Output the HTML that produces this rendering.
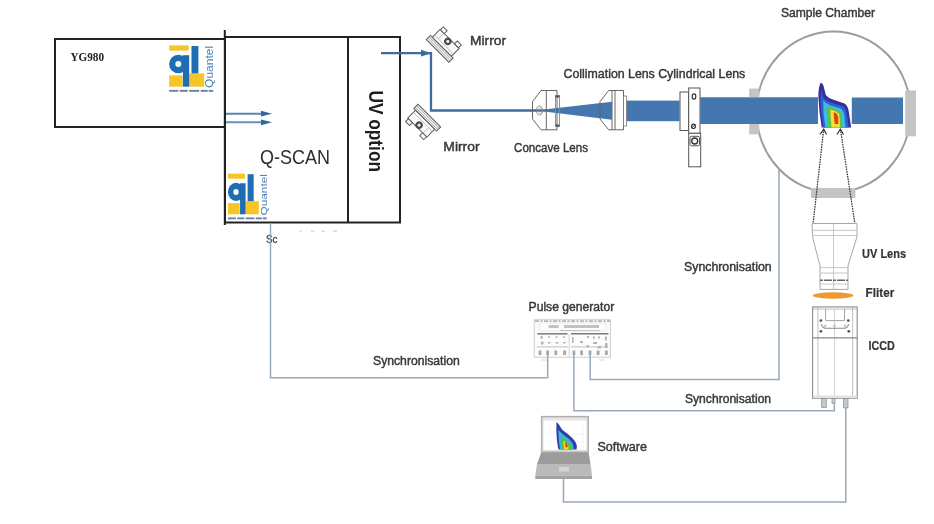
<!DOCTYPE html>
<html><head><meta charset="utf-8">
<style>
html,body{margin:0;padding:0;background:#fff;}
body{width:934px;height:524px;overflow:hidden;}
svg{display:block;filter:blur(0.5px);}
text{font-family:"Liberation Sans",sans-serif;}
</style></head>
<body>
<svg width="934" height="524" viewBox="0 0 934 524">
<defs>
  <g id="mirror">
    <rect x="-16" y="4.5" width="32" height="6" fill="#f4f4f4" stroke="#5a5a5a" stroke-width="1"/>
    <line x1="-16" y1="6.5" x2="16" y2="6.5" stroke="#777" stroke-width="0.6"/>
    <line x1="-16" y1="8.5" x2="16" y2="8.5" stroke="#777" stroke-width="0.6"/>
    <rect x="-13.5" y="-6.5" width="27" height="11" fill="#fafafa" stroke="#5a5a5a" stroke-width="1"/>
    <line x1="-13.5" y1="1.5" x2="13.5" y2="1.5" stroke="#999" stroke-width="0.6"/>
    <line x1="-8" y1="-6.5" x2="-8" y2="1.5" stroke="#999" stroke-width="0.6"/>
    <rect x="-13" y="-10.5" width="5.5" height="4" fill="#fff" stroke="#5a5a5a" stroke-width="1"/>
    <rect x="7" y="-10.5" width="5.5" height="4" fill="#fff" stroke="#5a5a5a" stroke-width="1"/>
    <circle cx="0.5" cy="-3.5" r="3.7" fill="#4a4a4a"/>
    <circle cx="0.5" cy="-3.5" r="1.6" fill="#eee"/>
  </g>
  <g id="logo">
    <rect x="0" y="0" width="19.4" height="5.2" fill="#f6c526"/>
    <rect x="0" y="30" width="13.3" height="11.3" fill="#f6c526"/>
    <rect x="20" y="28" width="15" height="13.3" fill="#f6c526"/>
    <circle cx="9.1" cy="18.6" r="9.2" fill="#1f6db3"/>
    <circle cx="9.1" cy="18.6" r="3" fill="#fff"/>
    <rect x="13.7" y="9.8" width="6.3" height="31.5" fill="#1f6db3"/>
    <rect x="22.3" y="0.6" width="6.9" height="27.4" fill="#1f6db3"/>
    <text x="0" y="0" transform="translate(44,42.5) rotate(-90)" font-family="Liberation Sans" font-size="10" fill="#4a80b8" textLength="42" lengthAdjust="spacingAndGlyphs">Quantel</text>
    <g fill="#2a4a8a" opacity="0.7"><rect x="0" y="44.5" width="9" height="1.9"/><rect x="10.5" y="44.5" width="8" height="1.9"/><rect x="20" y="44.5" width="10" height="1.9"/><rect x="31.5" y="44.5" width="7" height="1.9"/><rect x="39.5" y="44.5" width="4.5" height="1.9"/></g>
  </g>
  </g>
</defs>

<!-- YG980 box -->
<rect x="55" y="39" width="170" height="88" fill="none" stroke="#222" stroke-width="2"/>
<text x="70.5" y="60.8" font-family="Liberation Serif" font-weight="bold" font-size="12" fill="#222" textLength="33.5" lengthAdjust="spacingAndGlyphs" style="font-family:'Liberation Serif',serif">YG980</text>
<use href="#logo" transform="translate(169.2,45.4)"/>

<!-- Q-SCAN box -->
<rect x="225" y="37" width="175" height="185.5" fill="none" stroke="#222" stroke-width="2"/>
<line x1="224.8" y1="30" x2="224.8" y2="225" stroke="#222" stroke-width="2"/>
<line x1="348" y1="37" x2="348" y2="222.5" stroke="#222" stroke-width="2"/>
<text x="260.1" y="163.6" font-size="20.8" fill="#2e2e2e" textLength="69.9" lengthAdjust="spacingAndGlyphs">Q-SCAN</text>
<use href="#logo" transform="translate(228,173.6) scale(0.88,0.985)"/>
<text transform="translate(368.6,90.5) rotate(90)" x="0" y="0" font-size="19.5" font-weight="bold" fill="#1e1e1e" textLength="81.5" lengthAdjust="spacingAndGlyphs">UV option</text>

<!-- arrows -->
<line x1="226" y1="113.7" x2="262" y2="113.7" stroke="#5a86ae" stroke-width="2"/>
<line x1="226" y1="122.3" x2="262" y2="122.3" stroke="#6a90b0" stroke-width="2"/>
<path d="M261,110.8 L272,113.7 L261,116.6 Z" fill="#2f66a3"/>
<path d="M261,119.4 L272,122.3 L261,125.2 Z" fill="#2f66a3"/>

<!-- beam path -->
<polyline points="381,53.2 431,53.2 431,110.5 546,110.5" fill="none" stroke="#3d6ca0" stroke-width="2.3"/>
<path d="M421,49.8 L431.5,53.2 L421,56.6 Z" fill="#3d6ca0"/>
<use href="#mirror" transform="translate(445,43.5) rotate(45)"/>
<use href="#mirror" transform="translate(421.9,123) rotate(225)"/>

<!-- cone -->
<path d="M546,109.3 L612,101.8 L612,119.8 L546,111.7 Z" fill="#4476b0"/>
<rect x="626.5" y="100.6" width="53" height="20.6" fill="#4476b0"/>
<rect x="700.5" y="97.5" width="117.5" height="26.5" fill="#4476b0"/>
<rect x="851.8" y="97.5" width="51.2" height="26.5" fill="#4476b0"/>

<!-- concave lens -->
<path d="M541,90.5 L557,90.5 L557,129.8 L541,129.8 L532.5,119 L532.5,101.5 Z" fill="none" stroke="#666" stroke-width="1"/>
<line x1="546.3" y1="90.5" x2="546.3" y2="129.8" stroke="#666" stroke-width="1"/>
<rect x="555.5" y="95.5" width="4" height="31" fill="none" stroke="#8a8a8a" stroke-width="0.9"/>
<rect x="555.5" y="95.5" width="4" height="2" fill="#555"/><rect x="555.5" y="124.5" width="4" height="2" fill="#555"/>
<ellipse cx="539.5" cy="110.5" rx="3" ry="4.5" fill="none" stroke="#888" stroke-width="0.9"/>
<ellipse cx="540.5" cy="110.5" rx="2" ry="3" fill="none" stroke="#999" stroke-width="0.7"/>
<!-- collimation lens -->
<path d="M608.7,90.5 L623.5,90.5 L623.5,129.8 L608.7,129.8 L600,119 L600,101.5 Z" fill="none" stroke="#666" stroke-width="1"/>
<line x1="612" y1="90.5" x2="612" y2="129.8" stroke="#666" stroke-width="1"/>
<line x1="615" y1="90.5" x2="615" y2="129.8" stroke="#666" stroke-width="1"/>
<path d="M600,101.8 L612,101.8 L612,119.8 L600,119.8 Z" fill="#4476b0" opacity="0"/>
<rect x="623.5" y="96" width="3" height="30" fill="#fff" stroke="#777" stroke-width="0.8"/>
<!-- cylindrical lens -->
<rect x="680" y="92" width="8.5" height="38.5" fill="#fff" stroke="#555" stroke-width="1"/>
<rect x="688.7" y="88" width="11.3" height="45.3" fill="#fff" stroke="#555" stroke-width="1"/>
<ellipse cx="694" cy="96.5" rx="1.8" ry="2.6" fill="none" stroke="#333" stroke-width="1.2"/>
<ellipse cx="693.5" cy="126.3" rx="1.9" ry="2.2" fill="none" stroke="#333" stroke-width="1.2"/>
<line x1="691.5" y1="128" x2="695.5" y2="124.5" stroke="#333" stroke-width="0.9"/>
<rect x="688.7" y="133.3" width="12" height="33.5" fill="#fff" stroke="#555" stroke-width="1"/>
<rect x="690" y="136.3" width="9.5" height="9.5" rx="1.5" fill="none" stroke="#555" stroke-width="1"/><circle cx="694.7" cy="141" r="3" fill="#f2f2f2" stroke="#333" stroke-width="1.3"/>

<!-- sample chamber -->
<ellipse cx="833.5" cy="112" rx="77" ry="80.5" fill="none" stroke="#9c9c9c" stroke-width="2.1"/>
<rect x="749.2" y="88.6" width="10" height="45.8" fill="#c4c4c4"/>
<rect x="905.2" y="90.5" width="10.8" height="45.8" fill="#c4c4c4"/>
<rect x="811" y="188" width="44.4" height="10" fill="#c4c4c4"/>
<rect x="700.5" y="97.5" width="117.5" height="26.5" fill="#4476b0"/>
<!-- plume -->
<path d="M820.8,82.7 C822.5,82.8 823.5,85 824.2,88.5 L825.8,95 C828,97.5 831,99.2 835,100.3 L844.5,103.5 C846.8,105 848,107.5 848.5,110 L851.2,127.5 L821.7,127.5 L819.5,112 L818.4,97 C818.4,90 819.2,85 820.8,82.7 Z" fill="#37309a"/>
<path d="M821.5,89 L822.9,97 C825,100 828.5,102 833,103.2 L843,106.2 C845,107.8 846,110 846.5,112.5 L848.8,127.5 L823.5,127.5 L821.2,112 L820.5,98 Z" fill="#2d62d2"/>
<path d="M823.3,100.5 C826,103.5 829,105 832.5,106 L840.5,108.5 C843,110 844,112.5 844.3,115.5 L845.5,127.5 L825.5,127.5 L823.5,113 Z" fill="#3cbce6"/>
<path d="M826.5,106 L833,108.3 L839.5,111 C841.5,113 842,115.5 842,118.5 L842.5,127.5 L828,127.5 L826.8,114 Z" fill="#5cc248"/>
<path d="M830.5,109.5 L835.5,111.3 L839,114 L839.8,118.5 L840,127.5 L831.5,127.5 L830.5,115 Z" fill="#f2e22e"/>
<path d="M833.8,112 L836.8,113.8 L838.3,117.5 L838.3,124 L834.8,124 L833.8,116.5 Z" fill="#e2401c"/>
<!-- dotted lines -->
<line x1="823.7" y1="129" x2="813" y2="224.3" stroke="#303030" stroke-width="1.2" stroke-dasharray="1.6,0.9"/>
<line x1="840.4" y1="129" x2="855" y2="224.3" stroke="#303030" stroke-width="1.2" stroke-dasharray="1.6,0.9"/>
<path d="M820,134.5 L823.7,129.2 L826.5,134.5" fill="none" stroke="#333" stroke-width="1.2"/>
<path d="M837,134.5 L840.4,129.2 L843.5,134.5" fill="none" stroke="#333" stroke-width="1.2"/>

<!-- UV lens -->
<path d="M812,223.5 L857,223.5 L857,236.8 L848,265.8 L848,289.4 L820,289.4 L820,265.8 L812.5,236.8 Z" fill="#fff" stroke="#a8a8a8" stroke-width="1"/>
<g stroke="#b8b8b8" stroke-width="0.8">
<line x1="812.5" y1="230.4" x2="857" y2="230.4"/>
<line x1="812.5" y1="235.5" x2="857" y2="235.5"/>
<line x1="820" y1="267.6" x2="848" y2="267.6"/>
<line x1="820" y1="273" x2="848" y2="273"/>
<line x1="820" y1="284" x2="848" y2="284"/>
<line x1="833.6" y1="223.5" x2="833.6" y2="289.4"/>
</g>
<line x1="820" y1="280.3" x2="848" y2="280.3" stroke="#666" stroke-width="1.6" stroke-dasharray="3,1,8,1"/>
<!-- filter -->
<ellipse cx="833.1" cy="295.5" rx="20.4" ry="3.3" fill="#ee9a30"/>
<!-- ICCD -->
<rect x="812.6" y="306.9" width="44.6" height="91.5" fill="#fff" stroke="#8c8c8c" stroke-width="1.1"/>
<g stroke="#b0b0b0" stroke-width="0.8" fill="none">
<line x1="817.9" y1="306.9" x2="817.9" y2="398.4"/>
<line x1="852.6" y1="306.9" x2="852.6" y2="398.4"/>
<line x1="812.6" y1="309" x2="857.2" y2="309"/>
<line x1="834.6" y1="309" x2="834.6" y2="398.4" stroke="#c4c4c4"/>
<path d="M825.6,309 L825.6,320.6 L844.5,320.6 L844.5,309" stroke="#999" stroke-width="0.9"/>
<path d="M821.5,324 Q822,328.3 826,328.3 L844,328.3 Q848,328.3 848.5,324" stroke="#8a8a8a" stroke-width="1.1"/>
<circle cx="825.2" cy="325.8" r="1"/><circle cx="834.6" cy="325.8" r="1"/><circle cx="844.9" cy="325.8" r="1"/>
</g>
<line x1="812.6" y1="337.8" x2="857.2" y2="337.8" stroke="#888" stroke-width="1.3"/>
<g fill="#555"><circle cx="820.9" cy="320.6" r="1.4"/><circle cx="848.3" cy="320.6" r="1.4"/><circle cx="820.9" cy="331.3" r="1.4"/><circle cx="848.8" cy="331.3" r="1.4"/></g>
<rect x="813" y="395.5" width="44" height="2.8" fill="#e2e2e2"/>
<rect x="821.7" y="398.4" width="4.6" height="9" fill="#c8c8c8" stroke="#8a8a8a" stroke-width="0.7"/>
<rect x="832" y="398.4" width="3" height="5" fill="#ccc" stroke="#8a8a8a" stroke-width="0.7"/>
<rect x="843.5" y="398.4" width="4.5" height="9.5" fill="#c8c8c8" stroke="#8a8a8a" stroke-width="0.7"/>

<!-- pulse generator -->
<rect x="534.2" y="319.7" width="76.3" height="37.6" fill="#fcfcfc" stroke="#cfcfcf" stroke-width="1"/>
<line x1="535" y1="321.2" x2="610" y2="321.2" stroke="#9a9a9a" stroke-width="1.2" stroke-dasharray="4,1.5,2,1.5"/>
<rect x="539" y="323" width="67" height="8" fill="none" stroke="#e6e6e6" stroke-width="0.8"/>
<g fill="#c2c2c2"><rect x="548.6" y="325" width="10" height="3"/><rect x="564" y="325" width="35" height="3"/><rect x="560" y="330" width="40" height="1"/></g>
<line x1="537.3" y1="333.8" x2="567.5" y2="333.8" stroke="#7a7a7a" stroke-width="1.5"/>
<line x1="571" y1="333.8" x2="608.4" y2="333.8" stroke="#7a7a7a" stroke-width="1.5"/>
<line x1="569.2" y1="334" x2="569.2" y2="357" stroke="#d0d0d0" stroke-width="0.9"/>
<g fill="#b4b4b4">
<rect x="540.5" y="336" width="2" height="3"/><rect x="548" y="336.2" width="2" height="1.5"/><rect x="555.5" y="336.2" width="2" height="1.5"/><rect x="563" y="336.2" width="2" height="1.5"/>
<rect x="541" y="341.5" width="2.5" height="3"/><rect x="548" y="342" width="2.5" height="1.5"/><rect x="555.5" y="342" width="3" height="1.5"/><rect x="563" y="342" width="2.5" height="1.5"/>
<rect x="572" y="337" width="1.5" height="6"/><rect x="580" y="341" width="3" height="2"/><rect x="587" y="336" width="2" height="2"/><rect x="593" y="336.5" width="2" height="2"/><rect x="598" y="336.5" width="2" height="2"/><rect x="605" y="336.5" width="2" height="4"/>
<rect x="586.5" y="345" width="2.5" height="2.5"/><rect x="593" y="342" width="4" height="2"/><rect x="597.5" y="346" width="3.5" height="2.5"/><rect x="605" y="343" width="2.5" height="5"/>
<rect x="537" y="346.5" width="31" height="0.8"/><rect x="571" y="346.5" width="37" height="0.8"/>
</g>
<g fill="#a8a8a8">
<rect x="538.6" y="350.5" width="2.8" height="4.5"/><rect x="546.2" y="350.5" width="2.8" height="4.5"/><rect x="554.4" y="350.5" width="2.8" height="4.5"/><rect x="563.2" y="350.5" width="2.8" height="4.5"/>
<rect x="572.5" y="350.5" width="2.8" height="4.5"/><rect x="580.2" y="350.5" width="2.8" height="4.5"/><rect x="588.6" y="350.5" width="2.8" height="4.5"/><rect x="596.7" y="350.5" width="2.8" height="4.5"/><rect x="605" y="350.5" width="2.8" height="4.5"/>
</g>
<g fill="#d8d8d8"><rect x="541.5" y="359.5" width="6" height="1"/><rect x="599" y="359.5" width="6" height="1"/></g>
<!-- laptop -->
<rect x="541.3" y="416.3" width="47.3" height="36" fill="#cdcdcd" stroke="#a0a0a0" stroke-width="0.8"/>
<rect x="543.3" y="418.3" width="43.3" height="32" fill="#fff"/>
<path d="M541.3,452.3 L588.6,452.3 L590.5,464 L537,464 Z" fill="#9c9c9c"/>
<path d="M537,464 L590.5,464 L592,475.5 L535.3,475.5 Z" fill="#bababa"/>
<rect x="559" y="467" width="10" height="4.5" fill="#d4d4d4"/>
<rect x="535.3" y="475.5" width="56.7" height="3.5" fill="#a4a4a4"/>
<rect x="543.3" y="418.3" width="43.3" height="2.2" fill="#e4e4e4"/>
<g stroke="#eeeeee" stroke-width="0.6"><line x1="546" y1="434" x2="585" y2="434"/><line x1="546" y1="442" x2="585" y2="442"/><line x1="550" y1="421" x2="550" y2="450"/><line x1="583" y1="421" x2="583" y2="450"/></g>
<path d="M556.5,422 C558,423 560,426 562,429.5 C566,433 571,436 574,440 C576.5,443 577.5,446 576.5,449.5 L558.5,449.5 C557,443 556,433 556.5,422 Z" fill="#2f3fa8"/>
<path d="M558.5,430 C561,433 565,436 569,439 C572,442 574,445 573.5,449.5 L560,449.5 C559,444 558.5,437 558.5,430 Z" fill="#3bb4e0"/>
<path d="M561,437 C564,439 568,441 570,444 C571.5,446 571.5,448 571,449.5 L562,449.5 C561.5,446 561,441 561,437 Z" fill="#55bf48"/>
<path d="M563.5,440.5 C566,442 568,444 568.5,446.5 L568.5,449.5 L563.8,449.5 Z" fill="#f0dc28"/>
<path d="M565.2,441.8 C567,443 568,445 567.6,447.5 L565.5,447 Z" fill="#e04018"/>
<text x="266" y="242.5" font-size="10.5" fill="#444" stroke="#444" stroke-width="0.3" textLength="11.5" lengthAdjust="spacingAndGlyphs">Sc</text>
<g fill="#c8c8c8"><rect x="299.5" y="230.5" width="2" height="1.3"/><rect x="311" y="230.7" width="3.5" height="1"/><rect x="321.5" y="230.7" width="3.5" height="1"/><rect x="333" y="230.7" width="4" height="1"/></g>
<!-- sync lines -->
<g fill="none" stroke="#97a9ba" stroke-width="1.5">
<polyline points="270.5,223 270.5,377.8 547.7,377.8 547.7,353"/>
<polyline points="590.2,353 590.2,379.6 779,379.6 779,168"/>
<polyline points="573.9,353 573.9,410.8 834.3,410.8 834.3,403"/>
<polyline points="563.5,479 563.5,502 845.8,502 845.8,407.5"/>
</g>

<!-- labels -->
<g fill="#383838" stroke="#383838" stroke-width="0.45">
<text x="470" y="45" font-size="13" textLength="36" lengthAdjust="spacingAndGlyphs">Mirror</text>
<text x="443.3" y="150.7" font-size="12.7" textLength="36.3" lengthAdjust="spacingAndGlyphs">Mirror</text>
<text x="514.1" y="152" font-size="13" textLength="73.9" lengthAdjust="spacingAndGlyphs">Concave Lens</text>
<text x="563.6" y="78.2" font-size="13" textLength="181.7" lengthAdjust="spacingAndGlyphs">Collimation Lens Cylindrical Lens</text>
<text x="780.9" y="17.1" font-size="13" textLength="94.2" lengthAdjust="spacingAndGlyphs">Sample Chamber</text>
<text x="528.6" y="311" font-size="12.5" textLength="85.6" lengthAdjust="spacingAndGlyphs">Pulse generator</text>
<text x="373" y="365.1" font-size="12.5" textLength="86.8" lengthAdjust="spacingAndGlyphs">Synchronisation</text>
<text x="684" y="270.8" font-size="12.5" textLength="87.7" lengthAdjust="spacingAndGlyphs">Synchronisation</text>
<text x="685" y="403.2" font-size="12.5" textLength="86.1" lengthAdjust="spacingAndGlyphs">Synchronisation</text>
<text x="597.5" y="451.1" font-size="13" textLength="49.5" lengthAdjust="spacingAndGlyphs">Software</text>
</g>
<g fill="#333" stroke="#333" stroke-width="0.2" font-weight="bold">
<text x="862.1" y="257.7" font-size="13" textLength="43.9" lengthAdjust="spacingAndGlyphs">UV Lens</text>
<text x="865.6" y="297" font-size="13" textLength="28.6" lengthAdjust="spacingAndGlyphs">Fliter</text>
<text x="868.5" y="350" font-size="13" textLength="26.3" lengthAdjust="spacingAndGlyphs">ICCD</text>
</g>
</svg>
</body></html>
